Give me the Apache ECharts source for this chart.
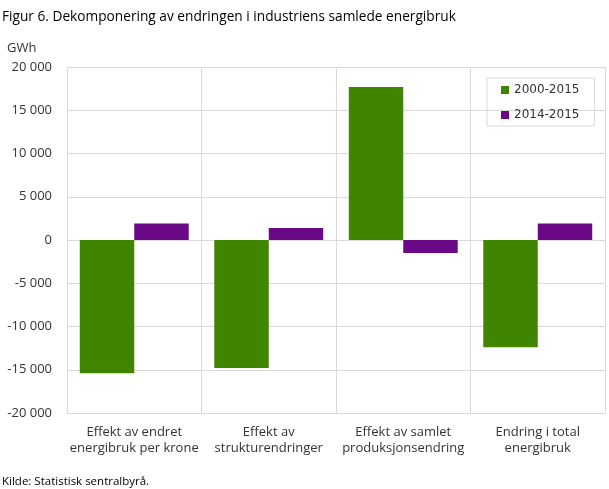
<!DOCTYPE html>
<html><head><meta charset="utf-8">
<script src="https://cdn.jsdelivr.net/npm/echarts@6/dist/echarts.min.js"></script>
<style>html,body{margin:0;padding:0;background:#fff}#c{width:609px;height:489px}</style>
</head><body><div id="c"></div>
<script>
var categories = ['Effekt av endret\nenergibruk per krone', 'Effekt av\nstrukturendringer', 'Effekt av samlet\nproduksjonsendring', 'Endring i total\nenergibruk'];
var series2000_2015 = [-15400, -14800, 17700, -12400];
var series2014_2015 = [1900, 1400, -1500, 1900];
var yTicks = {min: -20000, max: 20000, interval: 5000};

var chart = echarts.init(document.getElementById('c'));
var F = '"Open Sans", sans-serif';
chart.setOption({
  animation: false,
  title: [
    {text: 'Figur 6. Dekomponering av endringen i industriens samlede energibruk', left: 2, top: 10, padding: 0,
     textStyle: {fontFamily: F, fontSize: 13.7, fontWeight: 'normal', color: '#000'}},
    {text: 'GWh', left: 7, top: 42, padding: 0, textStyle: {fontFamily: F, fontSize: 13, fontWeight: 'normal', color: '#333'}},
    {text: 'Kilde: Statistisk sentralbyrå.', left: 2, top: 476, padding: 0, textStyle: {fontFamily: F, fontSize: 11.5, fontWeight: 'normal', color: '#000'}}
  ],
  legend: {
    orient: 'vertical', left: 487, top: 78,
    padding: [6, 15, 5, 14], itemGap: 13, itemWidth: 8, itemHeight: 8,
    borderColor: '#d9d9d9', borderWidth: 1,
    icon: 'rect',
    textStyle: {fontFamily: 'DejaVu Sans', fontSize: 12, color: '#333'},
    data: ['2000-2015', '2014-2015']
  },
  grid: {left: 67, right: 4, top: 67, bottom: 76, containLabel: false},
  xAxis: {
    type: 'category', data: categories,
    axisLine: {show: true, onZero: false, lineStyle: {color: '#d9d9d9'}},
    axisTick: {show: false},
    splitLine: {show: true, interval: 0, lineStyle: {color: '#d9d9d9'}},
    axisLabel: {interval: 0, fontFamily: F, fontSize: 13, color: '#333', lineHeight: 16, margin: 11}
  },
  yAxis: {
    type: 'value', min: yTicks.min, max: yTicks.max, interval: yTicks.interval,
    axisLine: {show: false}, axisTick: {show: false},
    splitLine: {lineStyle: {color: '#d9d9d9'}},
    axisLabel: {fontFamily: F, fontSize: 13, color: '#333', margin: 15,
      formatter: function (v) { var s = Math.abs(v).toString().replace(/\B(?=(\d{3})+(?!\d))/g, ' '); return (v < 0 ? '-' : '') + s; }}
  },
  series: [
    {name: '2000-2015', type: 'bar', data: series2000_2015, itemStyle: {color: '#408500'}, barGap: '0%', barCategoryGap: '19%'},
    {name: '2014-2015', type: 'bar', data: series2014_2015, itemStyle: {color: '#6a0888'}, barGap: '0%', barCategoryGap: '19%'}
  ]
});
</script></body></html>
